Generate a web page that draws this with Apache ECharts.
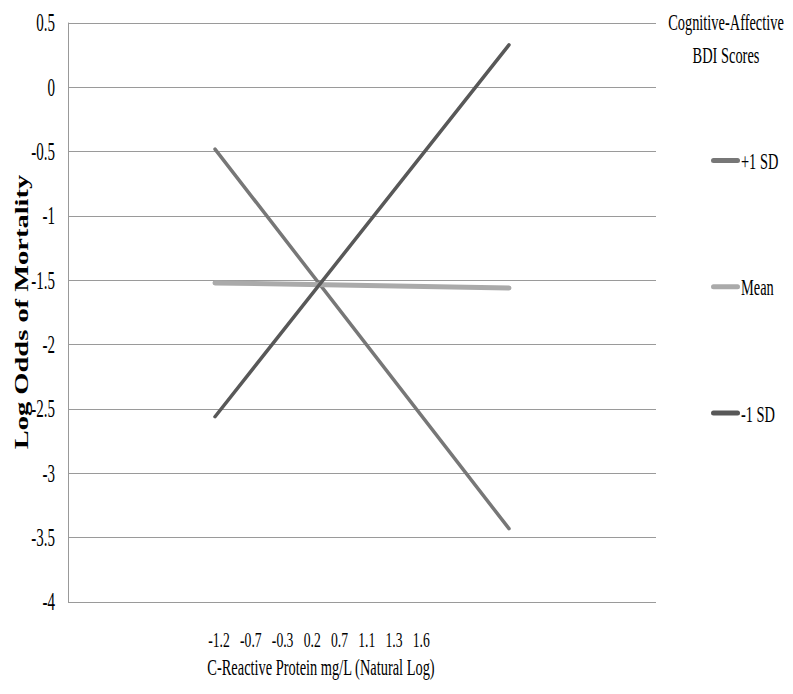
<!DOCTYPE html>
<html>
<head>
<meta charset="utf-8">
<script src="https://cdn.jsdelivr.net/npm/echarts@6/dist/echarts.min.js"></script>
<style>
  html, body { margin: 0; padding: 0; background: #ffffff; }
  #chart { width: 793px; height: 694px; }
</style>
</head>
<body>
<div id="chart"></div>
<script>
// Lowest and highest CRP (natural log) at which each BDI line is evaluated
const crpEnds = [-1.2, 1.6];

// Log odds of mortality for each Cognitive-Affective BDI level
const seriesNames = ['+1 SD', 'Mean', '-1 SD'];
const plusOneSD = [-0.48, -3.43];
const meanBDI = [-1.52, -1.56];
const minusOneSD = [-2.56, 0.33];

// Axis ticks and labels
const yTicks = [0.5, 0, -0.5, -1, -1.5, -2, -2.5, -3, -3.5, -4];
const xTickLabels = ['-1.2', '-0.7', '-0.3', '0.2', '0.7', '1.1', '1.3', '1.6'];

// Styling
const lineColors = ['#777777', '#aaaaaa', '#585858'];
const lineWidths = [3.5, 5, 3.5];
const SERIF = '"Liberation Serif", "Times New Roman", serif';
const SQUEEZE = 0.6;            // narrow, condensed lettering
const X_MIN = -2.6, X_MAX = 3.0;

const seriesData = [plusOneSD, meanBDI, minusOneSD];
const chart = echarts.init(document.getElementById('chart'), null, { renderer: 'svg' });

const lineSeries = seriesNames.map((name, i) => ({
  name: name,
  type: 'line',
  data: crpEnds.map((x, k) => [x, seriesData[i][k]]),
  showSymbol: false,
  symbol: 'none',
  silent: true,
  z: 5,
  lineStyle: { color: lineColors[i], width: lineWidths[i], cap: 'round' }
}));

// Y tick labels, placed through the y axis scale
const tickLabelSeries = {
  type: 'custom',
  silent: true,
  clip: false,
  data: yTicks.map(v => [X_MIN, v]),
  renderItem: function (params, api) {
    const p = api.coord([api.value(0), api.value(1)]);
    return {
      type: 'text',
      x: p[0] - 13,
      y: p[1],
      scaleX: SQUEEZE,
      style: {
        text: String(api.value(1)),
        fill: '#000000',
        fontSize: 25,
        fontFamily: SERIF,
        align: 'right',
        verticalAlign: 'middle'
      }
    };
  }
};

// Legend drawn as short thick strokes with condensed captions
const legendItems = [];
seriesNames.forEach((name, i) => {
  const y = 160.5 + i * 126.3;
  legendItems.push({
    type: 'line',
    shape: { x1: 713.5, y1: y, x2: 737.5, y2: y },
    style: { stroke: lineColors[i], lineWidth: 5, lineCap: 'round' },
    silent: true
  });
  legendItems.push({
    type: 'text',
    x: 741,
    y: y,
    scaleX: SQUEEZE,
    style: {
      text: name, fill: '#000000', fontSize: 24, fontFamily: SERIF,
      align: 'left', verticalAlign: 'middle'
    },
    silent: true
  });
});

const NBSP3 = '\u00a0\u00a0\u00a0';

chart.setOption({
  animation: false,
  backgroundColor: '#ffffff',
  grid: { left: 68, top: 23, width: 588, height: 579 },
  xAxis: {
    type: 'value',
    min: X_MIN,
    max: X_MAX,
    show: false
  },
  yAxis: {
    type: 'value',
    min: -4,
    max: 0.5,
    interval: 0.5,
    axisLine: { show: true, onZero: false, lineStyle: { color: '#999999', width: 1 } },
    axisTick: { show: false },
    axisLabel: { show: false },
    splitLine: { show: true, lineStyle: { color: '#9a9a9a', width: 1 } }
  },
  series: lineSeries.concat([tickLabelSeries]),
  graphic: [
    {
      type: 'text',
      x: 22, y: 312,
      rotation: Math.PI / 2,
      scaleY: 0.65,
      style: {
        text: 'Log Odds of Mortality', fill: '#000000',
        fontSize: 28.5, fontWeight: 'bold', fontFamily: SERIF,
        align: 'center', verticalAlign: 'middle'
      },
      silent: true
    },
    {
      type: 'text',
      x: 319, y: 640,
      scaleX: 0.62,
      style: {
        text: xTickLabels.join(NBSP3), fill: '#000000',
        fontSize: 22, fontFamily: SERIF,
        align: 'center', verticalAlign: 'middle'
      },
      silent: true
    },
    {
      type: 'text',
      x: 321, y: 667,
      scaleX: SQUEEZE,
      style: {
        text: 'C-Reactive Protein mg/L (Natural Log)', fill: '#000000',
        fontSize: 24, fontFamily: SERIF,
        align: 'center', verticalAlign: 'middle'
      },
      silent: true
    },
    {
      type: 'text',
      x: 726, y: 22,
      scaleX: SQUEEZE,
      style: {
        text: 'Cognitive-Affective', fill: '#000000',
        fontSize: 24, fontFamily: SERIF,
        align: 'center', verticalAlign: 'middle'
      },
      silent: true
    },
    {
      type: 'text',
      x: 726, y: 55,
      scaleX: SQUEEZE,
      style: {
        text: 'BDI Scores', fill: '#000000',
        fontSize: 24, fontFamily: SERIF,
        align: 'center', verticalAlign: 'middle'
      },
      silent: true
    }
  ].concat(legendItems)
});
</script>
</body>
</html>
